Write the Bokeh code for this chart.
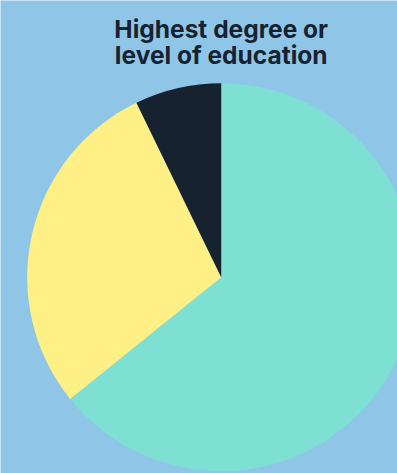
from math import pi
from bokeh.plotting import figure
from bokeh.models import Label, Range1d
from bokeh.embed import file_html
from bokeh.resources import INLINE

# Data
categories = ["Degree A", "Degree B", "Degree C"]
values = [64.2, 28.6, 7.2]
colors = ["#7ee0d2", "#fff085", "#172231"]
title_lines = ["Highest degree or", "level of education"]

BG = "#8fc6e7"
W, H = 397, 473
cx, cy, r = 220.7, H - 276.7, 194

p = figure(width=W, height=H, output_backend="svg", toolbar_location=None,
           x_range=Range1d(0, W), y_range=Range1d(0, H), min_border=0)
p.axis.visible = False
p.grid.visible = False
p.outline_line_color = None
p.background_fill_color = BG
p.border_fill_color = BG

total = sum(values)
start = pi / 2
for v, c in zip(values, colors):
    ang = 2 * pi * v / total
    p.wedge(x=cx, y=cy, radius=r, start_angle=start - ang, end_angle=start,
            fill_color=c, line_color=None)
    start -= ang

for i, t in enumerate(title_lines):
    p.add_layout(Label(x=cx, y=H - 28.5 - 25.8 * i, text=t, text_align="center",
                       text_baseline="alphabetic", text_font="Inter",
                       text_font_style="bold", text_font_size="24.5px",
                       text_color="#172231"))

html = file_html(p, INLINE)
html = html.replace("<body>", '<body style="background:%s">' % BG, 1)
open("out.html", "w").write(html)
